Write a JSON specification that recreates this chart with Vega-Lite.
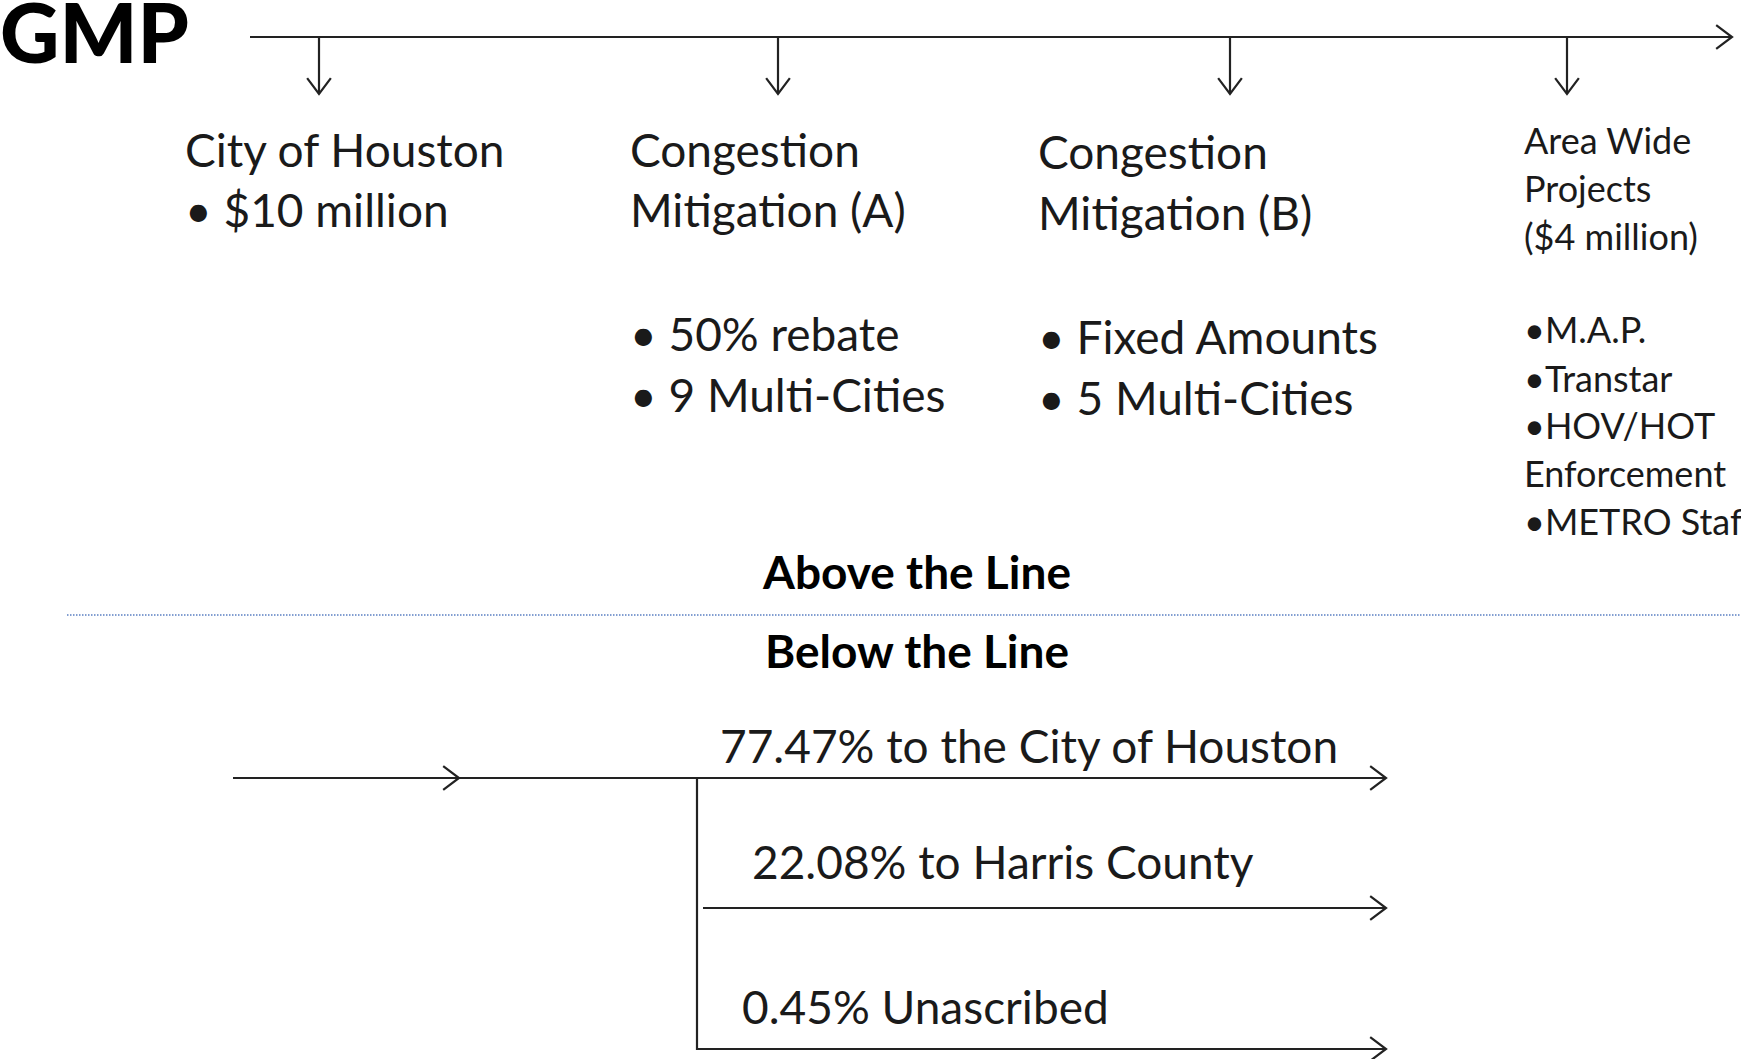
{
  "$schema": "https://vega.github.io/schema/vega-lite/v6.json",
  "width": 1741,
  "height": 1059,
  "autosize": {"type": "none"},
  "padding": 0,
  "background": "white",
  "config": {"view": {"stroke": null}, "font": "Lato"},
  "datasets": {
    "lines": [
      {"x": 250, "y": 37, "x2": 1732, "y2": 37},
      {"x": 319, "y": 37, "x2": 319, "y2": 94},
      {"x": 778, "y": 37, "x2": 778, "y2": 94},
      {"x": 1230, "y": 37, "x2": 1230, "y2": 94},
      {"x": 1567, "y": 37, "x2": 1567, "y2": 94},
      {"x": 233, "y": 778, "x2": 1386, "y2": 778},
      {"x": 697, "y": 778, "x2": 697, "y2": 1050},
      {"x": 703, "y": 908, "x2": 1386, "y2": 908},
      {"x": 697, "y": 1049, "x2": 1386, "y2": 1049}
    ],
    "divider": [{"x": 67, "y": 615, "x2": 1741, "y2": 615}],
    "heads": [
      {"x": 1732, "y": 37, "dir": "right"},
      {"x": 459, "y": 778, "dir": "right"},
      {"x": 1386, "y": 778, "dir": "right"},
      {"x": 1386, "y": 908, "dir": "right"},
      {"x": 1386, "y": 1049, "dir": "right"},
      {"x": 319, "y": 94, "dir": "down"},
      {"x": 778, "y": 94, "dir": "down"},
      {"x": 1230, "y": 94, "dir": "down"},
      {"x": 1567, "y": 94, "dir": "down"}
    ],
    "texts": [
      {"label": "GMP", "x": 0, "y": 63, "style": "title"},
      {"label": "City of Houston", "x": 185, "y": 153, "style": "main"},
      {"label": "• $10 million", "x": 185, "y": 213, "style": "main"},
      {"label": "Congestion", "x": 630, "y": 153, "style": "main"},
      {"label": "Mitigation (A)", "x": 630, "y": 213, "style": "main"},
      {"label": "• 50% rebate", "x": 630, "y": 337, "style": "main"},
      {"label": "• 9 Multi-Cities", "x": 630, "y": 398, "style": "main"},
      {"label": "Congestion", "x": 1038, "y": 155, "style": "main"},
      {"label": "Mitigation (B)", "x": 1038, "y": 216, "style": "main"},
      {"label": "• Fixed Amounts", "x": 1038, "y": 340, "style": "main"},
      {"label": "• 5 Multi-Cities", "x": 1038, "y": 401, "style": "main"},
      {"label": "Area Wide", "x": 1524, "y": 143, "style": "small"},
      {"label": "Projects", "x": 1524, "y": 191, "style": "small"},
      {"label": "($4 million)", "x": 1524, "y": 239, "style": "small"},
      {"label": "•M.A.P.", "x": 1524, "y": 332, "style": "small"},
      {"label": "•Transtar", "x": 1524, "y": 381, "style": "small"},
      {"label": "•HOV/HOT", "x": 1524, "y": 428, "style": "small"},
      {"label": "Enforcement", "x": 1524, "y": 476, "style": "small"},
      {"label": "•METRO Staff", "x": 1524, "y": 524, "style": "small"},
      {"label": "Above the Line", "x": 917, "y": 575, "style": "bold"},
      {"label": "Below the Line", "x": 917, "y": 654, "style": "bold"},
      {"label": "77.47% to the City of Houston", "x": 720, "y": 749, "style": "main"},
      {"label": "22.08% to Harris County", "x": 752, "y": 865, "style": "main"},
      {"label": "0.45% Unascribed", "x": 742, "y": 1010, "style": "main"}
    ]
  },
  "encoding": {
    "x": {"field": "x", "type": "quantitative", "scale": {"domain": [0, 1741], "nice": false, "zero": false}, "axis": null},
    "y": {"field": "y", "type": "quantitative", "scale": {"domain": [0, 1059], "nice": false, "zero": false, "reverse": true}, "axis": null}
  },
  "layer": [
    {
      "data": {"name": "divider"},
      "mark": {"type": "rule", "color": "#5a7fc2", "strokeWidth": 1.5, "strokeDash": [1.5, 1.5]},
      "encoding": {"x2": {"field": "x2"}, "y2": {"field": "y2"}}
    },
    {
      "data": {"name": "lines"},
      "mark": {"type": "rule", "color": "#222222", "strokeWidth": 2.2},
      "encoding": {"x2": {"field": "x2"}, "y2": {"field": "y2"}}
    },
    {
      "data": {"name": "heads"},
      "transform": [{"filter": "datum.dir === 'right'"}],
      "mark": {"type": "point", "shape": "M -1 -0.75 L 0 0 L -1 0.75", "filled": false, "stroke": "#222222", "strokeWidth": 2.2, "size": 1000, "opacity": 1}
    },
    {
      "data": {"name": "heads"},
      "transform": [{"filter": "datum.dir === 'down'"}],
      "mark": {"type": "point", "shape": "M -0.75 -1 L 0 0 L 0.75 -1", "filled": false, "stroke": "#222222", "strokeWidth": 2.2, "size": 1000, "opacity": 1}
    },
    {
      "data": {"name": "texts"},
      "transform": [{"filter": "datum.style === 'title'"}],
      "mark": {"type": "text", "align": "left", "baseline": "alphabetic", "fontSize": 82, "fontWeight": 900, "color": "#000000"},
      "encoding": {"text": {"field": "label"}}
    },
    {
      "data": {"name": "texts"},
      "transform": [{"filter": "datum.style === 'main'"}],
      "mark": {"type": "text", "align": "left", "baseline": "middle", "fontSize": 46, "color": "#1a1a1a"},
      "encoding": {"text": {"field": "label"}}
    },
    {
      "data": {"name": "texts"},
      "transform": [{"filter": "datum.style === 'small'"}],
      "mark": {"type": "text", "align": "left", "baseline": "middle", "fontSize": 36, "color": "#1a1a1a"},
      "encoding": {"text": {"field": "label"}}
    },
    {
      "data": {"name": "texts"},
      "transform": [{"filter": "datum.style === 'bold'"}],
      "mark": {"type": "text", "align": "center", "baseline": "middle", "fontSize": 46, "fontWeight": "bold", "color": "#000000"},
      "encoding": {"text": {"field": "label"}}
    }
  ]
}
